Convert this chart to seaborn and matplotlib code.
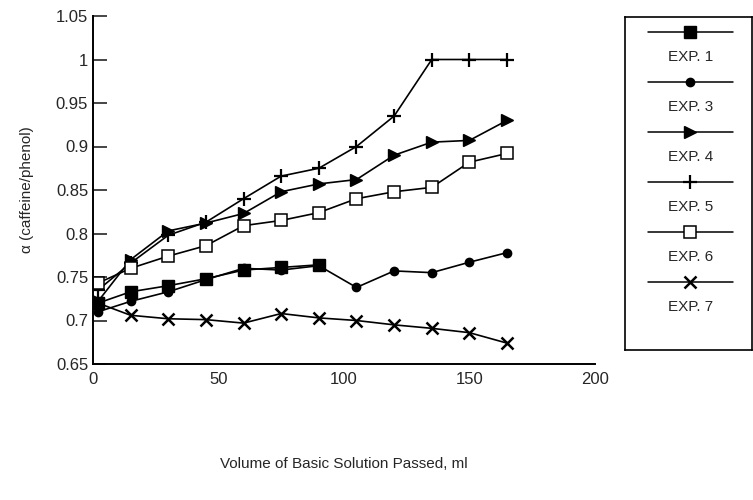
import numpy as np
import pandas as pd
import matplotlib
matplotlib.use("Agg")
import matplotlib.pyplot as plt
from matplotlib.lines import Line2D
from matplotlib.ticker import FuncFormatter
import seaborn as sns

volume = [2, 15, 30, 45, 60, 75, 90, 105, 120, 135, 150, 165]
exp1 = [0.720, 0.733, 0.740, 0.748, 0.758, 0.761, 0.764]
exp3 = [0.710, 0.722, 0.733, 0.747, 0.760, 0.758, 0.763, 0.738, 0.757, 0.755, 0.767, 0.778]
exp4 = [0.722, 0.770, 0.803, 0.812, 0.823, 0.848, 0.857, 0.862, 0.890, 0.905, 0.907, 0.930]
exp5 = [0.735, 0.766, 0.798, 0.813, 0.840, 0.866, 0.875, 0.900, 0.935, 1.000, 1.000, 1.000]
exp6 = [0.743, 0.760, 0.774, 0.786, 0.809, 0.815, 0.824, 0.840, 0.848, 0.853, 0.882, 0.892]
exp7 = [0.720, 0.706, 0.702, 0.701, 0.697, 0.708, 0.703, 0.700, 0.695, 0.691, 0.686, 0.674]
labels = ["EXP. 1", "EXP. 3", "EXP. 4", "EXP. 5", "EXP. 6", "EXP. 7"]
series = [exp1, exp3, exp4, exp5, exp6, exp7]
x_ticks = [0, 50, 100, 150, 200]
y_ticks = [0.65, 0.7, 0.75, 0.8, 0.85, 0.9, 0.95, 1.0, 1.05]

styles = {
    "EXP. 1": dict(marker="s", markersize=8, markerfacecolor="black", markeredgewidth=1),
    "EXP. 3": dict(marker="o", markersize=6, markerfacecolor="black", markeredgewidth=1),
    "EXP. 4": dict(marker=">", markersize=8, markerfacecolor="black", markeredgewidth=1),
    "EXP. 5": dict(marker="+", markersize=10, markeredgewidth=1.6),
    "EXP. 6": dict(marker="s", markersize=9, markerfacecolor="white", markeredgewidth=1.1),
    "EXP. 7": dict(marker="x", markersize=9, markeredgewidth=1.8),
}

rows = []
for lab, vals in zip(labels, series):
    for xv, yv in zip(volume, vals):
        rows.append((lab, xv, yv))
df = pd.DataFrame(rows, columns=["exp", "volume", "alpha"])

sns.set_style("white")
plt.rcParams["font.family"] = ["Liberation Sans", "DejaVu Sans"]

fig = plt.figure(figsize=(7.53, 5.0), dpi=100)
ax = fig.add_axes([0.1235, 0.272, 0.6665, 0.696])

for lab in labels:
    sub = df[df["exp"] == lab]
    sns.lineplot(data=sub, x="volume", y="alpha", ax=ax, color="black",
                 linewidth=1.2, markeredgecolor="black", **styles[lab])

ax.set_xlim(0, 200)
ax.set_ylim(0.65, 1.05)
ax.set_xticks(x_ticks)
ax.set_yticks(y_ticks)
ax.yaxis.set_major_formatter(FuncFormatter(lambda v, p: f"{v:g}"))
ax.tick_params(axis="x", length=0, labelsize=12, pad=6)
ax.tick_params(axis="y", direction="in", length=10, width=1.2, labelsize=12, left=True)
for s in ["top", "right"]:
    ax.spines[s].set_visible(False)
for s in ["left", "bottom"]:
    ax.spines[s].set_color("black")
    ax.spines[s].set_linewidth(1.4)
ax.set_xlabel("Volume of Basic Solution Passed, ml", fontsize=11, labelpad=50)
ax.set_ylabel("\u03b1 (caffeine/phenol)", fontsize=11, labelpad=16)

# legend panel: sample line above each label
lax = fig.add_axes([625 / 753, 1 - 350 / 500, 127 / 753, 333 / 500])
lax.set_xlim(0, 1)
lax.set_ylim(0, 1)
lax.set_xticks([])
lax.set_yticks([])
for s in lax.spines.values():
    s.set_color("black")
    s.set_linewidth(1.2)
step = 50 / 333
top = 1 - 15 / 333
for i, lab in enumerate(labels):
    ys = top - i * step
    yt = ys - 0.5 * step
    h = Line2D([0.18, 0.85], [ys, ys], color="black", linewidth=1.1,
               transform=lax.transAxes)
    lax.add_line(h)
    m = Line2D([0.515], [ys], color="black", linestyle="none",
               markeredgecolor="black", transform=lax.transAxes, **styles[lab])
    lax.add_line(m)
    lax.text(0.52, yt, lab, ha="center", va="center", fontsize=11, transform=lax.transAxes)

fig.savefig("out.png", dpi=100)
